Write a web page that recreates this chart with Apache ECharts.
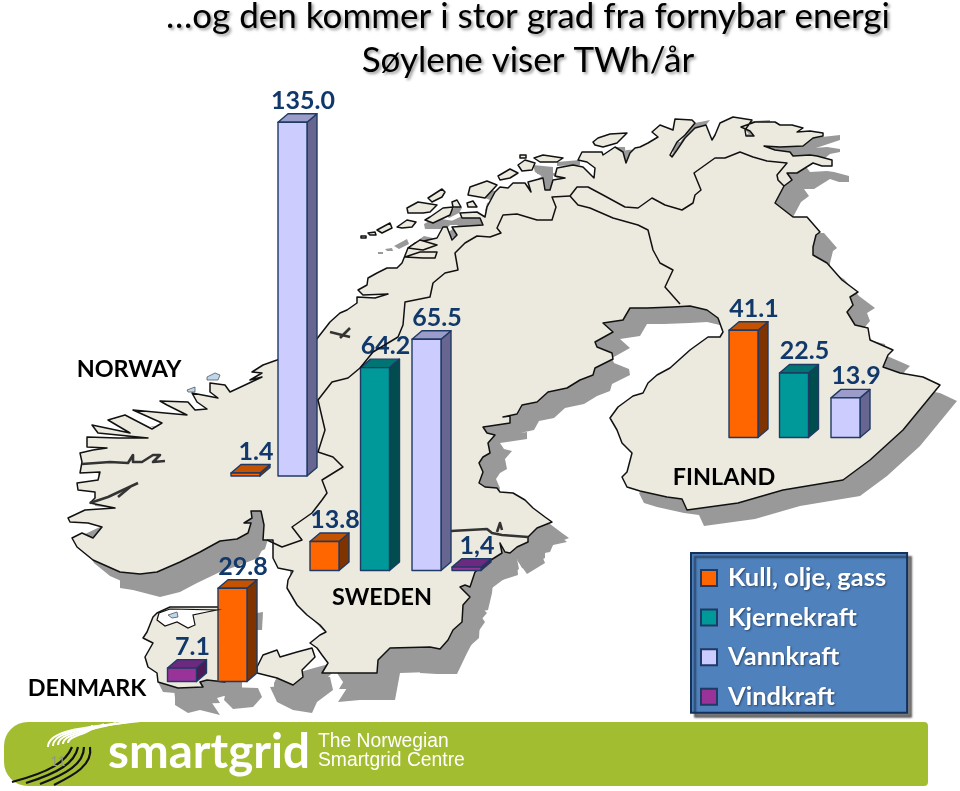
<!DOCTYPE html>
<html>
<head>
<meta charset="utf-8">
<style>
    html,body{margin:0;padding:0;background:#fff;}
    #chart{width:960px;height:791px;}
</style>
<script src="https://cdn.jsdelivr.net/npm/echarts@6/dist/echarts.min.js"></script>
</head>
<body>
<div id="chart"></div>
<script>
// values, TWh/year. order follows sources
const sources = ['Kull, olje, gass', 'Kjernekraft', 'Vannkraft', 'Vindkraft'];
const countries = ['NORWAY', 'SWEDEN', 'FINLAND', 'DENMARK'];
const norwayValues = [1.4, null, 135.0, null];
const swedenValues = [13.8, 64.2, 65.5, 1.4];
const finlandValues = [41.1, 22.5, 13.9, null];
const denmarkValues = [29.8, null, null, 7.1];
// printed as in the source slide, also the one with a comma
const norwayLabels = ['1.4', null, '135.0', null];
const swedenLabels = ['13.8', '64.2', '65.5', '1,4'];
const finlandLabels = ['41.1', '22.5', '13.9', null];
const denmarkLabels = ['29.8', null, null, '7.1'];

// the bars stand on the map by hand, each with its own foot and scale
const norwayLayout = [{x: 231, base: 476, scale: 2.14}, null, {x: 278, base: 476, scale: 2.62}, null];
const swedenLayout = [{x: 310, base: 570.5, scale: 2.1}, {x: 360.5, base: 570.5, scale: 3.16}, {x: 412, base: 570.5, scale: 3.53}, {x: 452, base: 570.5, scale: 2.4}];
const finlandLayout = [{x: 729, base: 437.5, scale: 2.61}, {x: 779.5, base: 437.5, scale: 2.87}, {x: 831, base: 437.5, scale: 2.85}, null];
const denmarkLayout = [{x: 218, base: 681.5, scale: 3.13}, null, null, {x: 167.5, base: 681.5, scale: 1.89}];

const frontColors = ['#FF6600', '#009999', '#CCCCFF', '#993399'];
const topColors = ['#C45200', '#007373', '#9C9CCB', '#6B2A80'];
const sideColors = ['#7F3300', '#004D4D', '#666690', '#4D1A55'];
const barEdge = '#1F3A64';
const labelColor = '#10386A';
const barWidth = 29, depthX = 10, depthY = 8.5;
const W = 960, H = 791;
const font = 'Lato, "Open Sans", sans-serif';

// ---- map outline ----
const mainland = [[120,572],[140,574],[157,572],[180,562],[200,552],[220,541],[237,539],[248,533],[251,523],[244,523],[252,518],[251,511],[261,511],[264,525],[263,540],[273,540],[273,558],[278,568],[293,571],[288,580],[287,588],[297,605],[307,615],[320,625],[326,632],[320,635],[310,643],[317,648],[322,655],[328,663],[322,673],[340,673],[377,673],[378,660],[390,648],[430,647],[440,649],[448,640],[453,630],[462,622],[463,605],[470,597],[460,587],[465,585],[470,587],[475,572],[491,560],[502,553],[500,543],[505,552],[510,553],[517,547],[528,542],[528,537],[537,528],[552,522],[545,517],[533,508],[525,500],[513,493],[500,492],[497,488],[485,487],[479,483],[483,472],[479,463],[483,457],[490,453],[488,443],[495,435],[487,433],[483,427],[490,426],[510,423],[510,416],[503,417],[517,414],[522,405],[537,402],[548,392],[567,388],[580,380],[593,375],[595,368],[613,359],[612,353],[597,347],[595,342],[613,332],[603,323],[623,320],[630,308],[647,308],[673,307],[690,306],[707,310],[718,318],[723,332],[720,337],[708,337],[690,350],[670,368],[657,375],[648,383],[643,393],[633,396],[618,407],[610,418],[617,430],[622,443],[632,453],[627,472],[622,477],[627,487],[640,491],[667,497],[682,499],[687,510],[738,503],[783,490],[843,480],[870,460],[903,430],[940,385],[923,377],[900,373],[883,367],[888,355],[893,350],[877,343],[870,340],[868,328],[855,325],[847,312],[853,305],[850,297],[858,292],[842,280],[827,263],[813,255],[813,247],[816,235],[820,232],[807,217],[793,217],[775,203],[784,186],[792,180],[787,173],[797,173],[805,168],[813,163],[822,166],[832,166],[832,160],[817,156],[810,155],[793,156],[790,152],[775,150],[764,146],[780,147],[803,146],[813,138],[823,136],[823,133],[810,131],[797,132],[803,128],[792,125],[780,125],[775,122],[755,122],[741,127],[750,131],[754,136],[746,136],[745,130],[752,120],[733,117],[720,123],[715,135],[712,140],[706,125],[695,128],[685,138],[677,150],[672,157],[670,155],[677,142],[685,135],[695,123],[692,120],[675,119],[673,130],[660,125],[652,132],[658,137],[648,143],[640,147],[635,148],[630,153],[626,163],[623,152],[615,147],[603,155],[602,152],[582,152],[578,160],[587,162],[595,168],[594,178],[583,167],[573,165],[557,168],[555,176],[565,178],[553,180],[550,190],[545,190],[543,178],[528,182],[531,192],[525,183],[513,183],[508,188],[500,187],[495,192],[487,207],[485,217],[477,212],[460,213],[462,218],[480,218],[483,225],[452,227],[457,235],[452,240],[447,227],[443,227],[437,238],[415,243],[408,248],[402,263],[397,268],[387,268],[377,273],[368,278],[367,285],[358,290],[363,295],[388,294],[375,298],[357,297],[357,303],[347,310],[340,313],[330,322],[316,340],[300,350],[277,360],[263,365],[252,372],[262,373],[250,380],[262,377],[245,385],[230,392],[225,385],[210,383],[210,392],[218,398],[192,393],[197,402],[207,409],[195,410],[188,402],[160,401],[167,405],[187,415],[165,413],[133,410],[162,423],[152,429],[125,415],[108,420],[130,433],[92,425],[98,433],[148,438],[118,438],[87,437],[87,447],[107,448],[93,450],[80,453],[82,462],[80,473],[100,472],[98,480],[77,483],[78,490],[95,492],[95,498],[90,503],[115,508],[85,510],[68,518],[70,522],[88,523],[102,527],[93,538],[82,533],[72,538],[77,547],[93,560]];
const islands = [
    [[361,236],[366,236],[366,238],[361,238]],
    [[368,233],[375,232],[376,235],[370,235]],
    [[377,230],[390,223],[392,228],[382,233]],
    [[397,227],[407,220],[416,222],[412,227],[402,228]],
    [[407,208],[418,202],[437,205],[430,212],[423,213],[408,213]],
    [[428,198],[442,189],[445,192],[442,197],[432,202]],
    [[425,220],[433,223],[450,215],[453,207],[443,208],[430,217]],
    [[452,202],[457,200],[461,207],[453,207]],
    [[467,203],[473,201],[477,207],[468,207]],
    [[470,187],[487,181],[497,185],[485,198],[468,195]],
    [[498,176],[510,169],[518,173],[510,178],[500,180]],
    [[518,165],[525,160],[535,163],[532,170],[522,171]],
    [[520,155],[526,155],[526,158],[520,158]],
    [[534,158],[543,155],[563,158],[557,162],[540,162]],
    [[408,248],[420,240],[437,245],[423,250]],
    [[405,257],[420,252],[437,252],[435,258],[423,258]],
    [[593,142],[598,138],[610,134],[627,133],[617,143],[603,147],[595,145]]
];
const jutland = [[153,617],[147,632],[143,638],[153,643],[145,657],[148,667],[157,673],[158,682],[178,688],[203,687],[200,682],[207,680],[225,682],[225,607],[170,607],[157,613]];
const zealand = [[257,667],[263,655],[277,650],[280,657],[297,652],[312,648],[315,657],[307,665],[302,670],[303,677],[293,685],[277,678],[257,673]];
// sea shadow where it falls deeper than the plain offset, and the fjords up north
const extraShadow = [
    [[158,682],[163,692],[175,693],[175,705],[188,713],[200,710],[220,715],[212,703],[217,693],[203,687]],
    [[227,687],[258,688],[262,697],[253,707],[233,709],[224,700]],
    [[270,687],[293,685],[303,677],[330,677],[333,690],[317,702],[312,713],[293,710],[277,702]],
    [[337,673],[377,673],[378,660],[390,648],[430,647],[430,672],[400,673],[395,700],[360,700],[338,702],[347,688]],
    [[420,648],[440,649],[448,640],[462,622],[465,605],[470,597],[475,572],[491,560],[503,555],[510,558],[517,562],[518,575],[493,583],[492,593],[488,610],[478,612],[485,622],[478,632],[467,653],[457,674],[437,674],[420,673]],
    [[517,560],[543,558],[545,563],[527,574]],
    [[517,555],[527,543],[537,530],[548,525],[562,538],[567,542],[553,545],[550,552],[533,555]],
    [[120,574],[120,588],[133,590],[160,597],[180,592],[197,583],[220,572],[240,565],[258,558],[267,540],[263,510],[250,512],[251,523],[248,533],[220,541],[180,562],[140,574]],
    [[257,613],[263,612],[262,630],[257,630]],
    [[533,165],[553,167],[553,180],[550,190],[545,190],[543,177],[535,172]],
    [[557,162],[580,160],[580,165],[557,166]],
    [[615,147],[625,147],[626,163],[620,150]],
    [[443,225],[460,217],[483,217],[483,225]],
    [[487,188],[497,192],[490,200],[485,198]],
    [[670,157],[685,135],[695,123],[710,120],[706,125],[695,128],[685,138],[677,150]],
    [[740,122],[770,120],[770,125],[752,137],[745,130]],
    [[764,146],[813,138],[840,135],[840,140],[810,150],[790,150]]
];
const borders = [
    [[267,540],[282,547],[302,540],[292,527],[312,513],[322,500],[327,493],[322,480],[343,467],[333,457],[318,452],[325,430],[318,400],[332,382],[348,378],[360,368]],
    [[360,368],[373,352],[398,337],[403,325],[405,302],[430,297],[433,283],[445,273],[458,270],[455,253],[465,243],[477,236],[490,237],[501,233],[497,228],[503,215],[517,214],[537,220],[552,220],[556,207],[552,197],[570,196]],
    [[570,196],[578,205],[590,208],[613,218],[638,225],[648,230],[653,250],[660,263],[673,270],[665,287],[680,304]],
    [[570,196],[577,187],[588,187],[603,195],[625,207],[638,208],[652,198],[665,205],[682,210],[693,203],[695,195],[701,190],[694,173],[715,158],[725,158],[740,152],[753,157],[767,161],[787,163],[777,175],[778,180],[784,186]]
];
const fjords = [
    [[82,464],[110,462],[128,463],[133,455],[133,462],[142,462],[153,455],[160,455],[153,462],[165,461]],
    [[90,503],[108,497],[138,483]],
    [[118,497],[130,487]],
    [[330,332],[350,337]],
    [[340,338],[350,328]],
    [[451,531],[487,529],[492,533],[502,535],[528,537]],
    [[497,532],[500,523],[502,530]]
];
const lakes = [
    [[187,390],[195,387],[195,392],[188,392]],
    [[207,377],[215,373],[220,375],[218,380],[207,380]],
    [[168,615],[177,612],[178,617],[172,618]]
];
const limfjord = [[159,613],[157,620],[165,626],[177,622],[188,628],[195,625],[193,615],[207,612],[217,610],[170,609]];

// ---- where the country names sit ----
const countryLabelPos = [[129, 369], [382, 597], [724, 477], [87, 688]];

const allValues = [norwayValues, swedenValues, finlandValues, denmarkValues];
const allLabels = [norwayLabels, swedenLabels, finlandLabels, denmarkLabels];
const allLayouts = [norwayLayout, swedenLayout, finlandLayout, denmarkLayout];

function poly(points, style, x, y, z){
    return {type: 'polygon', silent: true, x: x || 0, y: y || 0, z: z || 1, shape: {points: points}, style: style};
}
function line(points, stroke, width){
    return {type: 'polyline', silent: true, z: 4, shape: {points: points}, style: {stroke: stroke, lineWidth: width, fill: null, lineJoin: 'round'}};
}

let mapItems = [];
const landShapes = [mainland].concat(islands, [jutland, zealand]);
const shadowStyle = {fill: '#999999'};
landShapes.forEach(function(s){ mapItems.push(poly(s, shadowStyle, 17, 16, 1)); });
extraShadow.forEach(function(s){ mapItems.push(poly(s, shadowStyle, 0, 0, 1)); });
const landStyle = {fill: '#ECEADF', stroke: '#111', lineWidth: 1.5, lineJoin: 'round'};
landShapes.forEach(function(s){ mapItems.push(poly(s, landStyle, 0, 0, 3)); });
mapItems.push(poly(limfjord, {fill: '#fff', stroke: '#111', lineWidth: 1.2}, 0, 0, 4));
borders.forEach(function(b){ mapItems.push(line(b, '#111', 1.5)); });
fjords.forEach(function(b){ mapItems.push(line(b, '#333', 2.6)); });
lakes.forEach(function(s){ mapItems.push(poly(s, {fill: '#BDD7EE', stroke: '#555', lineWidth: .8}, 0, 0, 5)); });

// country names
countries.forEach(function(name, i){
    mapItems.push({type: 'text', silent: true, z: 6, x: countryLabelPos[i][0], y: countryLabelPos[i][1],
        style: {text: name, fill: '#000', font: 'bold 23.4px ' + font, align: 'center', verticalAlign: 'middle'}});
});

// banner at the foot
mapItems.push({type: 'rect', silent: true, z: 6, shape: {x: 4, y: 722, width: 924, height: 64, r: [24, 4, 4, 24]}, style: {fill: '#A3BD31'}});
for(let i = 0; i < 5; i++){
    mapItems.push({type: 'bezierCurve', silent: true, z: 7, shape: {x1: 48 + i * 5, y1: 747 - i, cpx1: 48 + i * 5, cpy1: 730 + i, cpx2: 85 + i * 2, cpy2: 727 + i * 2, x2: 140 - i * 12, y2: 721 + i}, style: {stroke: '#fff', lineWidth: 2, fill: null}});
}
for(let i = 0; i < 4; i++){
    mapItems.push({type: 'bezierCurve', silent: true, z: 7, shape: {x1: 72 + i * 6, y1: 747, cpx1: 66 + i * 9, cpy1: 762 + i, cpx2: 50 + i * 8, cpy2: 772 + i, x2: 12 + i * 14, y2: 782 + i}, style: {stroke: '#111', lineWidth: 2.2, fill: null}});
}
mapItems.push({type: 'text', silent: true, z: 7, x: 58, y: 762, style: {text: '11', fill: '#8E9A77', font: '13px ' + font, align: 'center', verticalAlign: 'middle'}});
mapItems.push({type: 'text', silent: true, z: 7, x: 108, y: 753, style: {text: 'smartgrid', fill: '#fff', font: 'bold 47.5px ' + font, verticalAlign: 'middle'}});
mapItems.push({type: 'text', silent: true, z: 7, x: 318, y: 742, style: {text: 'The Norwegian', fill: '#fff', font: '19.3px "Liberation Sans", sans-serif', verticalAlign: 'middle'}});
mapItems.push({type: 'text', silent: true, z: 7, x: 318, y: 761, style: {text: 'Smartgrid Centre', fill: '#fff', font: '19.3px "Liberation Sans", sans-serif', verticalAlign: 'middle'}});

// one hidden y axis per bar, built so value 0 lands on that bar's foot
let yAxes = [];
let barSeries = [];

function drawBar(srcIndex, label){
    return function(params, api){
        let x = api.value(0);
        let topPt = api.coord([x, api.value(1)]);
        let basePt = api.coord([x, 0]);
        let right = api.coord([x + barWidth, 0])[0];
        let l = basePt[0], t = topPt[1], b = basePt[1];
        let edge = {stroke: barEdge, lineWidth: 1.4, lineJoin: 'round'};
        return {type: 'group', children: [
            {type: 'polygon', shape: {points: [[right, t], [right + depthX, t - depthY], [right + depthX, b - depthY], [right, b]]},
                style: Object.assign({fill: sideColors[srcIndex]}, edge)},
            {type: 'polygon', shape: {points: [[l, t], [l + depthX, t - depthY], [right + depthX, t - depthY], [right, t]]},
                style: Object.assign({fill: topColors[srcIndex]}, edge)},
            {type: 'rect', shape: {x: l, y: t, width: right - l, height: b - t},
                style: Object.assign({fill: frontColors[srcIndex]}, edge)},
            {type: 'text', x: l + 25, y: t - 21.5, style: {text: label, fill: labelColor, font: 'bold 25px ' + font, align: 'center', verticalAlign: 'middle'}}
        ]};
    };
}

allValues.forEach(function(values, c){
    values.forEach(function(v, s){
        if(v === null) return;
        let lay = allLayouts[c][s];
        yAxes.push({type: 'value', show: false, min: -(H - lay.base) / lay.scale, max: lay.base / lay.scale});
        barSeries.push({
            name: sources[s],
            type: 'custom',
            yAxisIndex: yAxes.length - 1,
            silent: true,
            z: 3,
            clip: false,
            itemStyle: {color: frontColors[s], borderColor: barEdge, borderWidth: 1.5},
            encode: {x: 0, y: 1},
            data: [[lay.x, v]],
            renderItem: drawBar(s, allLabels[c][s])
        });
    });
});

let chart = echarts.init(document.getElementById('chart'), null, {renderer: 'canvas'});
chart.setOption({
    animation: false,
    backgroundColor: '#fff',
    title: {
        text: '…og den kommer i stor grad fra fornybar energi\nSøylene viser TWh/år',
        left: 528, top: -5, padding: 0, textAlign: 'center', z: 8,
        textStyle: {
            fontFamily: font, fontSize: 35, fontWeight: 'normal', color: '#000', lineHeight: 44,
            textShadowColor: 'rgba(0,0,0,.4)', textShadowBlur: 3, textShadowOffsetX: 2, textShadowOffsetY: 2
        }
    },
    grid: {left: 0, right: 0, top: 0, bottom: 0, containLabel: false},
    xAxis: {type: 'value', show: false, min: 0, max: W},
    yAxis: yAxes,
    legend: {
        orient: 'vertical', left: 691, top: 553, z: 8,
        selectedMode: false,
        data: sources.map(function(n){ return {name: n, icon: 'rect'}; }),
        itemWidth: 16, itemHeight: 16, itemGap: 13.6,
        padding: [12, 21, 3, 9],
        backgroundColor: '#4F81BD',
        borderColor: '#14305C', borderWidth: 2,
        shadowColor: 'rgba(0,0,0,.5)', shadowBlur: 2, shadowOffsetX: 4, shadowOffsetY: 4,
        textStyle: {
            color: '#fff', fontFamily: font, fontWeight: 'bold', fontSize: 25.5, padding: [0, 0, 0, 6],
            textShadowColor: 'rgba(0,0,0,.45)', textShadowBlur: 2, textShadowOffsetX: 1, textShadowOffsetY: 1
        }
    },
    graphic: {elements: mapItems},
    series: barSeries
});
</script>
</body>
</html>
